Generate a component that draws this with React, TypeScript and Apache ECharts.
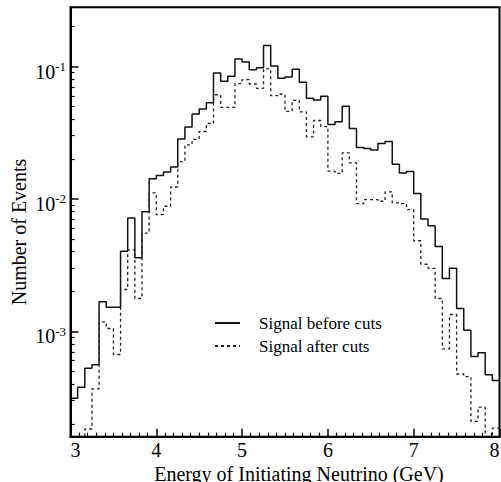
import React, { useEffect, useRef } from "react";
import * as echarts from "echarts";

// Histogram: 60 bins of width 1/12 GeV from 3 to 8 GeV
const binStart = 3;
const binCount = 60;
const binWidth = 1 / 12;

const signalBefore = [
  3.12e-4, 3.78e-4, 5.27e-4, 5.6e-4, 1.67e-3, 1.52e-3, 1.52e-3, 4.03e-3, 7.18e-3, 3.6e-3,
  8.0e-3, 1.42e-2, 1.5e-2, 1.6e-2, 1.74e-2, 2.84e-2, 3.5e-2, 4.37e-2, 4.77e-2, 5.33e-2,
  8.95e-2, 7.74e-2, 8.45e-2, 0.114, 0.108, 9.44e-2, 9.77e-2, 0.144, 0.101, 8.15e-2,
  8.35e-2, 9.54e-2, 7.6e-2, 5.75e-2, 5.58e-2, 5.96e-2, 3.65e-2, 3.82e-2, 5.0e-2, 3.4e-2,
  2.45e-2, 2.4e-2, 2.34e-2, 2.62e-2, 2.71e-2, 1.83e-2, 1.57e-2, 1.61e-2, 1.1e-2, 7.05e-3,
  6.27e-3, 4.37e-3, 2.51e-3, 2.99e-3, 1.49e-3, 1.02e-3, 6.46e-4, 6.89e-4, 4.69e-4, 4.25e-4,
];

const signalAfter = [
  1.1e-4, 1.3e-4, 1.83e-4, 3.68e-4, 1.18e-3, 1.05e-3, 6.68e-4, 2.07e-3, 4.12e-3, 1.77e-3,
  5.52e-3, 1.11e-2, 7.6e-3, 8.8e-3, 1.23e-2, 1.91e-2, 2.56e-2, 2.82e-2, 3.23e-2, 3.71e-2,
  6.12e-2, 4.91e-2, 4.91e-2, 7.43e-2, 7.96e-2, 7.38e-2, 6.84e-2, 9.6e-2, 6.02e-2, 6.2e-2,
  4.58e-2, 5.55e-2, 4.55e-2, 2.94e-2, 3.91e-2, 3.52e-2, 1.62e-2, 1.56e-2, 2.23e-2, 1.87e-2,
  9.22e-3, 9.89e-3, 9.89e-3, 9.6e-3, 1.13e-2, 9.33e-3, 9.2e-3, 8.3e-3, 4.83e-3, 3.21e-3,
  2.99e-3, 1.77e-3, 7.38e-4, 1.34e-3, 4.76e-4, 4.55e-4, 2.09e-4, 2.68e-4, 1.2e-4, 1.86e-4,
];

const seriesNames = ["Signal before cuts", "Signal after cuts"];
const xTitle = "Energy of Initiating Neutrino (GeV)";
const yTitle = "Number of Events";
const xMin = 3;
const xMax = 8;
const yMin = 1.6e-4;
const yMax = 0.28;
const yMajorTicks = [1e-3, 1e-2, 1e-1];
const yMinorTicks = [
  2e-4, 3e-4, 4e-4, 5e-4, 6e-4, 7e-4, 8e-4, 9e-4,
  2e-3, 3e-3, 4e-3, 5e-3, 6e-3, 7e-3, 8e-3, 9e-3,
  2e-2, 3e-2, 4e-2, 5e-2, 6e-2, 7e-2, 8e-2, 9e-2,
  2e-1,
];

const FONT = "'Liberation Serif', 'DejaVu Serif', serif";

function toSteps(values: number[]) {
  const pts: [number, number][] = values.map((v, i) => [binStart + i * binWidth, v]);
  pts.push([binStart + binCount * binWidth, values[values.length - 1]]);
  return pts;
}

export default function App() {
  const ref = useRef<HTMLDivElement>(null);
  useEffect(() => {
    if (!ref.current) return;
    const chart = echarts.init(ref.current, null, { renderer: "svg" });
    chart.setOption({
      animation: false,
      backgroundColor: "#fff",
      textStyle: { fontFamily: FONT, color: "#000" },
      grid: {
        left: 70.5,
        right: 1.5,
        top: 7.3,
        bottom: 45.3,
        show: true,
        borderColor: "#000",
        borderWidth: 2,
        backgroundColor: "transparent",
        outerBoundsMode: "none",
      },
      legend: {
        data: seriesNames,
        orient: "vertical",
        left: 214,
        top: 314.5,
        padding: 0,
        itemWidth: 25,
        itemHeight: 12,
        itemGap: 6,
        itemStyle: { opacity: 0, color: "transparent", borderWidth: 0 },
        textStyle: { fontFamily: FONT, fontSize: 17, color: "#000", padding: [0, 0, 0, 14] },
      },
      xAxis: {
        type: "value",
        min: xMin,
        max: xMax,
        interval: 1,
        name: xTitle,
        nameLocation: "middle",
        nameGap: 27,
        nameMoveOverlap: false,
        nameTextStyle: { fontFamily: FONT, fontSize: 20, color: "#000", padding: [0, 0, 0, 28] },
        axisLine: { show: true, lineStyle: { color: "#000", width: 2 } },
        axisTick: { show: true, inside: true, length: 8, lineStyle: { color: "#000", width: 1.5 } },
        minorTick: { show: true, splitNumber: 10, length: 4, lineStyle: { color: "#000", width: 1.2 } },
        axisLabel: {
          fontFamily: FONT,
          fontSize: 20,
          color: "#000",
          margin: 3,
          alignMinLabel: "left",
          alignMaxLabel: "right",
        },
        splitLine: { show: false },
        minorSplitLine: { show: false },
      },
      yAxis: [
        {
          type: "log",
          logBase: 10,
          min: yMin,
          max: yMax,
          position: "left",
          name: yTitle,
          nameLocation: "middle",
          nameGap: 42,
          nameMoveOverlap: false,
          nameRotate: 90,
          nameTextStyle: { fontFamily: FONT, fontSize: 20, color: "#000", padding: [0, 20, 0, 0] },
          axisLine: { show: true, lineStyle: { color: "#000", width: 2 } },
          axisTick: {
            show: true,
            inside: true,
            length: 8,
            customValues: yMajorTicks,
            lineStyle: { color: "#000", width: 1.5 },
          },
          axisLabel: {
            show: true,
            customValues: yMajorTicks,
            margin: 4.5,
            formatter: (v: number) => `{b|10}{s|${Math.round(Math.log10(v))}}`,
            rich: {
              b: { fontFamily: FONT, fontSize: 20, lineHeight: 20, verticalAlign: "bottom", color: "#000" },
              s: { fontFamily: FONT, fontSize: 13, lineHeight: 30, verticalAlign: "middle", color: "#000" },
            },
          },
          splitLine: { show: false },
        },
        {
          type: "log",
          logBase: 10,
          min: yMin,
          max: yMax,
          position: "left",
          axisLine: { show: false },
          axisTick: {
            show: true,
            inside: true,
            length: 4,
            customValues: yMinorTicks,
            lineStyle: { color: "#000", width: 1.2 },
          },
          axisLabel: { show: false },
          splitLine: { show: false },
        },
      ],
      series: [
        {
          name: seriesNames[0],
          type: "line",
          step: "end",
          symbol: "none",
          yAxisIndex: 0,
          data: toSteps(signalBefore),
          lineStyle: { color: "#111", width: 1.5, type: "solid" },
          itemStyle: { color: "#111" },
          clip: true,
        },
        {
          name: seriesNames[1],
          type: "line",
          step: "end",
          symbol: "none",
          yAxisIndex: 0,
          data: toSteps(signalAfter),
          lineStyle: { color: "#222", width: 1.3, type: [3, 3] },
          itemStyle: { color: "#222" },
          clip: true,
        },
      ],
    });
    return () => chart.dispose();
  }, []);
  return (
    <div
      ref={ref}
      style={{ position: "absolute", left: 0, top: 0, width: 501, height: 482 }}
    />
  );
}
